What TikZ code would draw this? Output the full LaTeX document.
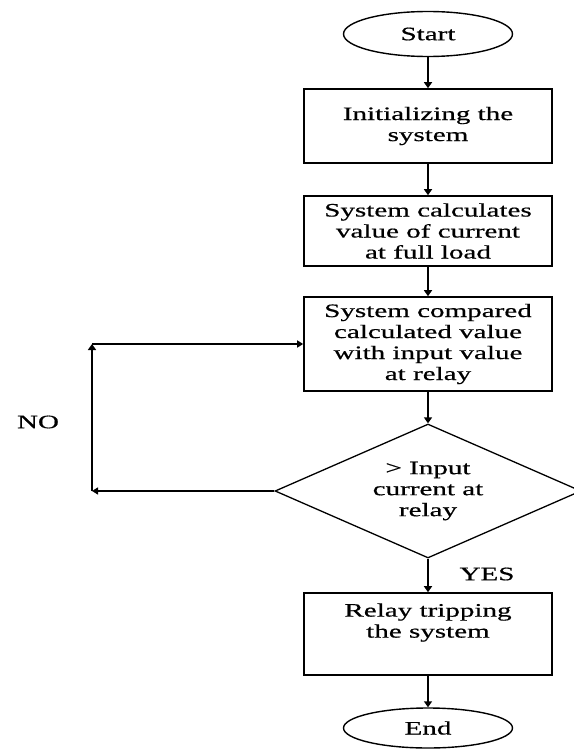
\documentclass[tikz,border=0pt]{standalone}
\usepackage{fontspec}
\setmainfont[FakeStretch=1.53,FakeBold=0.6]{Liberation Serif}
\usetikzlibrary{shapes.geometric,arrows.meta}
\begin{document}
\begin{tikzpicture}[x=1pt,y=-1pt,
  every node/.style={font=\fontsize{19}{21}\selectfont, align=center, inner sep=0pt},
  term/.style={draw, line width=1.4pt, ellipse, minimum width=169pt, minimum height=45pt},
  procbox/.style={draw, line width=1.6pt, rectangle, minimum width=248pt},
  decision/.style={draw, line width=1.3pt, diamond, aspect=2.3, minimum width=306pt, minimum height=134pt},
  arr/.style={line width=2pt, -{Triangle[width=8pt,length=6pt]}},
  farr/.style={line width=1.4pt, -{Triangle[width=7pt,length=6pt]}}]
\useasboundingbox (0,0) rectangle (573,749);
\node[term] (s) at (428,34) {Start};
\node[procbox, minimum height=74pt] (b1) at (428,126) {Initializing the\\system};
\node[procbox, minimum height=70pt] (b2) at (428,231) {System calculates\\value of current\\at full load};
\node[procbox, minimum height=94pt] (b3) at (428,344) {System compared\\calculated value\\with input value\\at relay};
\node[decision] (d) at (428,491) {> Input\\current at\\relay};
\node[procbox, minimum height=82pt] (b4) at (428,634) {Relay tripping\\the system\\[6pt]};
\node[term, minimum height=40pt] (e) at (428,728) {End};
\node (no) at (38,422) {NO};
\node (yes) at (487,574) {YES};
\coordinate (c1) at (92,491);
\coordinate (c2) at (92,344);
\draw[arr] (s) -- (b1);
\draw[arr] (b1) -- (b2);
\draw[arr] (b2) -- (b3);
\draw[arr] (b3) -- (d);
\draw[arr] (d) -- (b4);
\draw[arr] (b4) -- (e);
\draw[farr] (d.west) -- (c1);
\draw[arr] (c1) -- (c2);
\draw[farr] (c2) -- (b3.west);
\end{tikzpicture}
\end{document}
